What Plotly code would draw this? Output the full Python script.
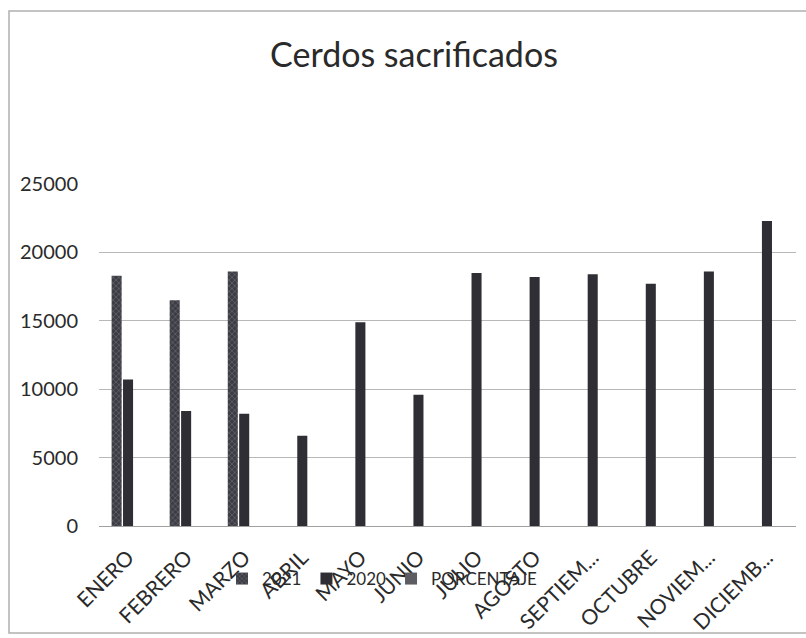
import plotly.graph_objects as go

meses = ["ENERO", "FEBRERO", "MARZO", "ABRIL", "MAYO", "JUNIO", "JULIO",
         "AGOSTO", "SEPTIEM...", "OCTUBRE", "NOVIEM...", "DICIEMB..."]
serie_2021 = [18300, 16500, 18600, None, None, None, None, None, None, None, None, None]
serie_2020 = [10700, 8400, 8200, 6600, 14900, 9600, 18500, 18200, 18400, 17700, 18600, 22300]
porcentaje = [None] * 12
y_ticks = [0, 5000, 10000, 15000, 20000, 25000]

FONT = "Lato"

fig = go.Figure()
fig.add_trace(go.Bar(
    name="2021", x=meses, y=serie_2021,
    marker=dict(color="#3c3c44", line=dict(width=0),
                pattern=dict(shape="x", fgcolor="#a8a8b0", size=4, solidity=0.25)),
))
fig.add_trace(go.Bar(
    name="2020", x=meses, y=serie_2020,
    marker=dict(color="#2e2e34", line=dict(width=0)),
))
fig.add_trace(go.Bar(
    name="PORCENTAJE", x=meses, y=porcentaje,
    marker=dict(color="#5c5c62", line=dict(width=0)),
))

L, R, T, B = 99, 10, 184, 112
W, H = 806, 638
pw, ph = W - L - R, H - T - B

def px_x(x):
    return (x - L) / pw

def px_y(y):
    return (H - B - y) / ph

fig.update_layout(
    width=W, height=H,
    margin=dict(l=L, r=R, t=T, b=B, pad=0, autoexpand=False),
    paper_bgcolor="white", plot_bgcolor="white",
    barmode="group", bargap=0.41, bargroupgap=0.12,
    font=dict(family=FONT, color="#2a2a2a"),
    title=dict(text="Cerdos sacrificados", x=px_x(414), xref="paper",
               xanchor="center", y=1 - 55 / H, yanchor="middle",
               font=dict(family=FONT, size=34, color="#2a2a2a")),
    legend=dict(orientation="h", x=px_x(222), xanchor="left",
                y=px_y(579), yanchor="middle",
                font=dict(family=FONT, size=17, color="#2a2a2a"),
                bgcolor="rgba(0,0,0,0)", itemwidth=30, traceorder="normal"),
    showlegend=True,
    shapes=[dict(type="path", xref="paper", yref="paper",
                 path=f"M {px_x(900)} {px_y(633)} L {px_x(9)} {px_y(633)} "
                      f"L {px_x(9)} {px_y(11)} L {px_x(900)} {px_y(11)}",
                 line=dict(color="#b0b0b0", width=1.5), layer="below")],
)
fig.update_yaxes(range=[0, 25000], tickvals=y_ticks, tickformat="d", showgrid=True,
                 gridcolor="#b8b8b8", gridwidth=1, zeroline=False, automargin=False,
                 showline=False, ticks="", ticklabelstandoff=20,
                 tickfont=dict(family=FONT, size=20, color="#2a2a2a"))
fig.update_xaxes(showgrid=False, showline=True, linecolor="#a0a0a0", linewidth=1,
                 tickangle=-45, ticks="", ticklabelstandoff=10, automargin=False,
                 tickfont=dict(family=FONT, size=21, color="#2a2a2a"))

fig.write_html("out.html", config={"displayModeBar": False},
               post_script="document.body.style.margin='0';")
